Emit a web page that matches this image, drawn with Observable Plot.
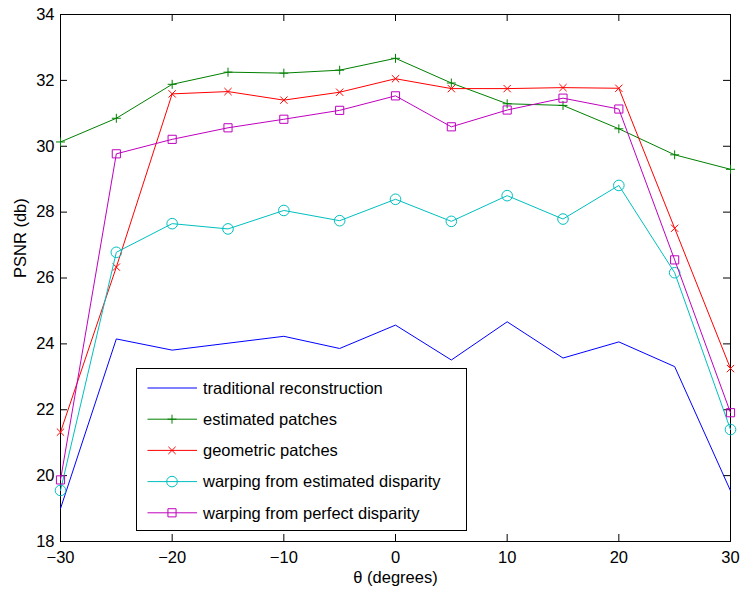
<!DOCTYPE html>
<html>
<head>
<meta charset="utf-8">
<script src="https://cdn.jsdelivr.net/npm/d3@7"></script>
<script src="https://cdn.jsdelivr.net/npm/@observablehq/plot@0.6"></script>
<style>
  html, body { margin: 0; padding: 0; background: white; }
  #wrap { position: relative; width: 741px; height: 595px; font-family: "Liberation Sans", Arial, Helvetica, sans-serif; }
  #legend { position: absolute; left: 136px; top: 368px; }
</style>
</head>
<body>
<div id="wrap"></div>
<script>
// ---- data ----
const theta = [-30, -25, -20, -15, -10, -5, 0, 5, 10, 15, 20, 25, 30];
const traditional = [19.0, 24.15, 23.81, 24.02, 24.23, 23.86, 24.57, 23.51, 24.67, 23.57, 24.06, 23.31, 19.54];
const estimatedPatches = [30.13, 30.85, 31.88, 32.25, 32.22, 32.31, 32.67, 31.92, 31.29, 31.24, 30.53, 29.74, 29.30];
const geometricPatches = [21.32, 26.33, 31.59, 31.66, 31.40, 31.64, 32.05, 31.75, 31.75, 31.78, 31.76, 27.51, 23.25];
const warpEstimated = [19.55, 26.78, 27.65, 27.49, 28.05, 27.74, 28.39, 27.72, 28.50, 27.79, 28.81, 26.16, 21.40];
const warpPerfect = [19.87, 29.77, 30.21, 30.56, 30.82, 31.09, 31.53, 30.59, 31.10, 31.46, 31.13, 26.55, 21.91];

const seriesNames = ["traditional reconstruction", "estimated patches", "geometric patches",
  "warping from estimated disparity", "warping from perfect disparity"];
const seriesValues = [traditional, estimatedPatches, geometricPatches, warpEstimated, warpPerfect];
const seriesColors = ["#0000ff", "#008000", "#ff0000", "#00bfbf", "#bf00bf"];
const seriesSymbols = [null, "plus", "times", "circle", "square"];
const seriesR = [0, 3, 3.4, 5.3, 4.6];

const xTicks = [-30, -20, -10, 0, 10, 20, 30];
const yTicks = [18, 20, 22, 24, 26, 28, 30, 32, 34];
const xLabel = "θ (degrees)";
const yLabel = "PSNR (db)";

// ---- build long table ----
const rows = [];
seriesNames.forEach((name, i) => {
  theta.forEach((t, j) => rows.push({series: name, idx: i, theta: t, psnr: seriesValues[i][j]}));
});

const W = 741, H = 595;
const mL = 60, mR = 11, mT = 14, mB = 54;
const fw = W - mL - mR, fh = H - mT - mB;
const tick = 7;

const marks = [
  Plot.frame({stroke: "black", strokeWidth: 1}),
  // inward ticks
  Plot.ruleX(xTicks, {stroke: "black", insetTop: fh - tick}),
  Plot.ruleX(xTicks, {stroke: "black", insetBottom: fh - tick}),
  Plot.ruleY(yTicks, {stroke: "black", insetRight: fw - tick}),
  Plot.ruleY(yTicks, {stroke: "black", insetLeft: fw - tick}),
  Plot.axisX(xTicks, {tickSize: 0, tickPadding: 10, label: null, fontSize: 16.5}),
  Plot.axisY(yTicks, {tickSize: 0, tickPadding: 6, label: null, fontSize: 16.5}),
  Plot.text([xLabel], {frameAnchor: "bottom", dy: 36, fontSize: 16.5, lineAnchor: "middle"}),
  Plot.text([yLabel], {frameAnchor: "left", dx: -40, rotate: -90, fontSize: 16.5, lineAnchor: "middle"})
];
seriesNames.forEach((name, i) => {
  const d = rows.filter(r => r.idx === i);
  marks.push(Plot.line(d, {x: "theta", y: "psnr", stroke: seriesColors[i], strokeWidth: 1}));
  if (seriesSymbols[i]) {
    marks.push(Plot.dot(d, {x: "theta", y: "psnr", symbol: () => seriesSymbols[i], r: seriesR[i],
      stroke: seriesColors[i], fill: "none", strokeWidth: 1}));
  }
});

const chart = Plot.plot({
  width: W, height: H,
  marginLeft: mL, marginRight: mR, marginTop: mT, marginBottom: mB,
  style: {fontFamily: "'Liberation Sans', Arial, Helvetica, sans-serif", fontSize: "16.5px", background: "white", color: "black"},
  x: {domain: [-30, 30]},
  y: {domain: [18, 34]},
  symbol: {type: "identity"},
  marks
});
const wrap = document.getElementById("wrap");
wrap.appendChild(chart);

// ---- legend overlay ----
const LW = 331, LH = 163;
const leg = d3.select(wrap).append("svg").attr("id", "legend")
  .attr("width", LW).attr("height", LH)
  .style("font-family", "'Liberation Sans', Arial, Helvetica, sans-serif");
leg.append("rect").attr("x", 0.5).attr("y", 0.5).attr("width", LW - 1).attr("height", LH - 1)
  .attr("fill", "white").attr("stroke", "black");
const symMap = {plus: d3.symbolPlus, times: d3.symbolTimes, circle: d3.symbolCircle, square: d3.symbolSquare};
seriesNames.forEach((name, i) => {
  const y = 20 + i * 31.2;
  const g = leg.append("g").attr("transform", `translate(0,${y})`);
  g.append("line").attr("x1", 11.5).attr("x2", 61).attr("y1", 0).attr("y2", 0)
    .attr("stroke", seriesColors[i]).attr("stroke-width", 1);
  if (seriesSymbols[i]) {
    g.append("path").attr("transform", "translate(36,0)")
      .attr("d", d3.symbol(symMap[seriesSymbols[i]], Math.PI * seriesR[i] * seriesR[i])())
      .attr("fill", "none").attr("stroke", seriesColors[i]).attr("stroke-width", 1);
  }
  g.append("text").attr("x", 67).attr("y", 0).attr("dy", "0.35em")
    .attr("font-size", 16.5).attr("fill", "black").text(name);
});
</script>
</body>
</html>
